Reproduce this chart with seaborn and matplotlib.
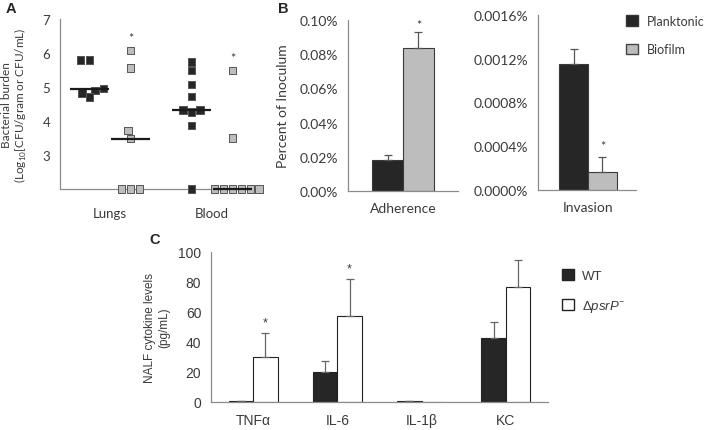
import numpy as np
import pandas as pd
import matplotlib.pyplot as plt
import seaborn as sns
from matplotlib.patches import Patch
from matplotlib.ticker import FuncFormatter

# ---- data ----
# A: bacterial burden (log10), value 2 = below detection limit (drawn on axis)
sites = ['Lungs', 'Blood']
groups = ['Planktonic', 'Biofilm']
lungs_plank = [5.8, 5.8, 4.96, 4.9, 4.83, 4.7]
lungs_biofilm = [6.08, 5.56, 3.72, 3.48, 2, 2, 2]
blood_plank = [5.74, 5.48, 5.08, 4.72, 4.33, 4.33, 4.26, 3.87, 2]
blood_biofilm = [5.48, 3.5, 2, 2, 2, 2, 2, 2]

# B: percent of inoculum (mean, upper error)
adh_mean = [0.018, 0.0834]
adh_err = [0.0031, 0.0094]
inv_mean = [0.00115, 0.000162]
inv_err = [0.000143, 0.000137]

# C: NALF cytokines pg/mL
cytokines = ['TNFα', 'IL-6', 'IL-1β', 'KC']
strains = ['WT', 'dpsrP']
wt_mean = [0.6, 19.8, 0.4, 42.2]
wt_err = [0.2, 7.5, 0.3, 10.7]
mut_mean = [29.8, 56.9, 0.0, 76.4]
mut_err = [16.0, 24.7, 0.0, 17.8]

dark = '#262626'
light = '#bdbdbd'
spine_c = '#8c8c8c'
text_c = '#3a3a3a'

sns.set_style('white')
plt.rcParams['font.family'] = ['Lato', 'DejaVu Sans']
plt.rcParams['mathtext.fontset'] = 'custom'
plt.rcParams['mathtext.rm'] = 'Lato'
plt.rcParams['mathtext.it'] = 'Liberation Sans:italic'
arial = ['Liberation Sans', 'DejaVu Sans']

fig = plt.figure(figsize=(7.08, 4.31), dpi=100)
W, H = 708, 431


def add_ax(left, top, right, bottom):
    return fig.add_axes([left / W, 1 - bottom / H, (right - left) / W, (bottom - top) / H])


def style(ax, size, xpad=8):
    sns.despine(ax=ax)
    for s in ['left', 'bottom']:
        ax.spines[s].set_color(spine_c)
        ax.spines[s].set_linewidth(0.9)
    ax.tick_params(axis='y', direction='out', length=4, width=0.9, color=spine_c,
                   labelcolor=text_c, labelsize=size, pad=3)
    ax.tick_params(axis='x', which='major', length=0, labelcolor=text_c, labelsize=size, pad=xpad)
    ax.tick_params(axis='x', which='minor', direction='out', length=4, width=0.9, color=spine_c)
    ax.set_xlabel('')


def add_errors(ax, errs_by_hue, color='#555555'):
    for cont, errs in zip(ax.containers, errs_by_hue):
        for bar, e in zip(cont, errs):
            if e <= 0:
                continue
            x = bar.get_x() + bar.get_width() / 2
            h = bar.get_height()
            ax.errorbar(x, h, yerr=[[0], [e]], fmt='none', ecolor=color,
                        elinewidth=0.9, capsize=3, capthick=0.9, zorder=3)


# ---- panel A ----
rows = []
for site, plank, bio in [('Lungs', lungs_plank, lungs_biofilm), ('Blood', blood_plank, blood_biofilm)]:
    rows += [(site, 'Planktonic', v) for v in plank]
    rows += [(site, 'Biofilm', v) for v in bio]
dfa = pd.DataFrame(rows, columns=['site', 'group', 'burden'])

axA = add_ax(60, 20, 258, 190)
sns.swarmplot(data=dfa, x='site', y='burden', hue='group', order=sites, hue_order=groups,
              dodge=True, marker='s', size=5.4, palette=[dark, light],
              edgecolor='#555555', linewidth=0.7, legend=False, warn_thresh=1, ax=axA)
for coll in axA.collections:
    coll.set_clip_on(False)
    coll.set_zorder(3)
# median lines
med = dfa.groupby(['site', 'group'])['burden'].median()
for i, site in enumerate(sites):
    for j, grp in enumerate(groups):
        xc = i + (j - 0.5) * 0.4
        axA.hlines(med[(site, grp)], xc - 0.19, xc + 0.19, color='#1a1a1a', lw=1.6,
                   zorder=4, clip_on=False)
axA.set_xlim(-0.49, 1.45)
axA.set_ylim(2, 7)
axA.set_yticks([2, 3, 4, 5, 6, 7])
axA.set_yticklabels(['', '3', '4', '5', '6', '7'])
axA.set_xticks([1.45], minor=True)
style(axA, 9.5, xpad=13)
axA.set_ylabel('Bacterial burden\n(Log$_{10}$[CFU/gram or CFU/mL)', fontsize=8.5,
               color=text_c, linespacing=1.1)
axA.yaxis.set_label_coords((29 - 60) / 198, 0.5)
axA.text(0.2, 6.45, '*', ha='center', va='center', fontsize=9, color=text_c)
axA.text(1.2, 5.85, '*', ha='center', va='center', fontsize=9, color=text_c)

# ---- panel B: adherence ----
axB1 = add_ax(348, 21, 458, 192)
dfb1 = pd.DataFrame({'assay': 'Adherence', 'group': groups, 'pct': adh_mean})
sns.barplot(data=dfb1, x='assay', y='pct', hue='group', hue_order=groups,
            palette=[dark, light], width=0.56, edgecolor='#3a3a3a', linewidth=0.8,
            errorbar=None, legend=False, ax=axB1)
add_errors(axB1, [[adh_err[0]], [adh_err[1]]])
axB1.set_xlim(-0.5, 0.5)
axB1.set_ylim(0, 0.1)
axB1.set_yticks(np.arange(0, 0.101, 0.02))
axB1.yaxis.set_major_formatter(FuncFormatter(lambda v, p: f'{v:.2f}%'))
axB1.set_xticks([0.5], minor=True)
style(axB1, 10)
axB1.set_ylabel('Percent of Inoculum', fontsize=10, color=text_c)
axB1.yaxis.set_label_coords((289 - 348) / 110, 0.5)
b = axB1.containers[1][0]
axB1.text(b.get_x() + b.get_width() / 2, adh_mean[1] + adh_err[1] + 0.004, '*',
          ha='center', va='center', fontsize=9, color=text_c)

# ---- panel B: invasion ----
axB2 = add_ax(538, 16, 636, 191)
dfb2 = pd.DataFrame({'assay': 'Invasion', 'group': groups, 'pct': inv_mean})
sns.barplot(data=dfb2, x='assay', y='pct', hue='group', hue_order=groups,
            palette=[dark, light], width=0.59, edgecolor='#3a3a3a', linewidth=0.8,
            errorbar=None, legend=False, ax=axB2)
add_errors(axB2, [[inv_err[0]], [inv_err[1]]])
axB2.set_xlim(-0.51, 0.49)
axB2.set_ylim(0, 0.0016)
axB2.set_yticks(np.arange(0, 0.00161, 0.0004))
axB2.yaxis.set_major_formatter(FuncFormatter(lambda v, p: f'{v:.4f}%'))
axB2.set_xticks([0.49], minor=True)
style(axB2, 10)
axB2.set_ylabel('')
b = axB2.containers[1][0]
axB2.text(b.get_x() + b.get_width() / 2, inv_mean[1] + inv_err[1] + 0.0001, '*',
          ha='center', va='center', fontsize=9, color=text_c)

fig.legend(handles=[Patch(facecolor=dark, edgecolor='#333333', label='Planktonic'),
                    Patch(facecolor=light, edgecolor='#444444', label='Biofilm')],
           loc='upper left', bbox_to_anchor=(626 / W, 1 - 16 / H), frameon=False,
           handlelength=0.95, handleheight=0.95, handletextpad=0.7, labelspacing=1.3,
           borderpad=0, borderaxespad=0, prop={'size': 9}, labelcolor=text_c)

# ---- panel C ----
axC = add_ax(211, 252.7, 548, 402.7)
dfc = pd.DataFrame({'cytokine': cytokines * 2,
                    'strain': [strains[0]] * 4 + [strains[1]] * 4,
                    'level': wt_mean + mut_mean})
sns.barplot(data=dfc, x='cytokine', y='level', hue='strain', hue_order=strains,
            palette=[dark, 'white'], width=0.58, edgecolor='#222222', linewidth=0.8,
            errorbar=None, legend=False, ax=axC)
add_errors(axC, [wt_err, mut_err], color='#666666')
axC.set_xlim(-0.5, 3.5)
axC.set_ylim(0, 100)
axC.set_yticks(np.arange(0, 101, 20))
axC.set_xticks([0.5, 1.5, 2.5, 3.5], minor=True)
style(axC, 10)
for lab in axC.get_xticklabels() + axC.get_yticklabels():
    lab.set_fontfamily(arial)
axC.set_ylabel('NALF cytokine levels\n(pg/mL)', fontsize=8.5, color=text_c,
               fontfamily=arial)
axC.yaxis.set_label_coords((170 - 211) / 337, 0.5)
for i, top in [(0, mut_mean[0] + mut_err[0]), (1, mut_mean[1] + mut_err[1])]:
    b = axC.containers[1][i]
    axC.text(b.get_x() + b.get_width() / 2, top + 7, '*', ha='center', va='center',
             fontsize=9, color=text_c, fontfamily=arial)

fig.legend(handles=[Patch(facecolor=dark, edgecolor='#222222', label='WT'),
                    Patch(facecolor='white', edgecolor='#222222',
                          label='Δ$\\mathit{psrP}^{-}$')],
           loc='upper left', bbox_to_anchor=(562 / W, 1 - 270 / H), frameon=False,
           handlelength=0.9, handleheight=0.9, handletextpad=0.6, labelspacing=1.2,
           borderpad=0, borderaxespad=0, prop={'size': 9.5, 'family': arial},
           labelcolor=text_c)

# panel letters
fig.text(11 / W, 1 - 9 / H, 'A', fontsize=10.5, fontweight='bold', fontfamily=arial,
         ha='center', va='center')
fig.text(283 / W, 1 - 9 / H, 'B', fontsize=10.5, fontweight='bold', fontfamily=arial,
         ha='center', va='center')
fig.text(155 / W, 1 - 240 / H, 'C', fontsize=10.5, fontweight='bold', fontfamily=arial,
         ha='center', va='center')

fig.savefig('out.png', dpi=100)
